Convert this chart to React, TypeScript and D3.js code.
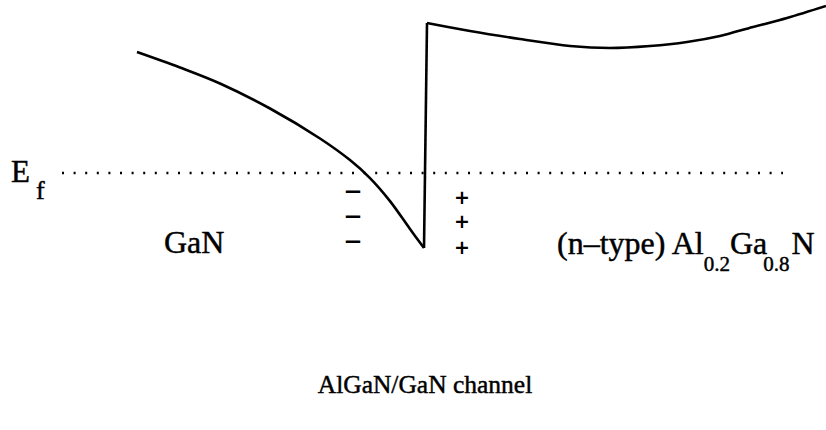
import React from "react";
import * as d3 from "d3";

const W = 826;
const H = 430;

// position (px-like units along the device) and energy (arb. units, Ef = 0)
const gaNBandX = [137, 180, 220, 270, 320, 350, 370, 390, 410, 424];
const gaNBandE = [12.1, 10.55, 8.95, 6.45, 3.45, 1.29, -0.51, -2.81, -5.6, -7.5];
const interfaceX = [424, 427];
const interfaceE = [-7.5, 15.0];
const alGaNBandX = [427, 470, 520, 570, 610, 650, 687, 720, 753, 787, 826];
const alGaNBandE = [15.0, 14.2, 13.4, 12.7, 12.5, 12.7, 13.1, 13.7, 14.6, 15.5, 16.7];
const fermiRange = [62, 783];
const fermiE = 0;
const negChargeX = 353;
const negChargeE = [-1.77, -4.27, -6.77];
const posChargeX = 462;
const posChargeE = [-2.4, -4.8, -7.4];

export default function App() {
  const x = d3.scaleLinear().domain([0, W]).range([0, W]);
  const y = d3.scaleLinear().domain([0, 10]).range([173, 73]);

  const smooth = d3
    .line<[number, number]>()
    .x((d) => x(d[0]))
    .y((d) => y(d[1]))
    .curve(d3.curveCatmullRom.alpha(0.5));
  const straight = d3
    .line<[number, number]>()
    .x((d) => x(d[0]))
    .y((d) => y(d[1]));

  const left = gaNBandX.map((v, i) => [v, gaNBandE[i]] as [number, number]);
  const mid = interfaceX.map((v, i) => [v, interfaceE[i]] as [number, number]);
  const right = alGaNBandX.map((v, i) => [v, alGaNBandE[i]] as [number, number]);

  const serif = "'Liberation Serif', 'Times New Roman', serif";
  const heavy = { stroke: "#000", strokeWidth: 0.45 };

  return (
    <svg width={W} height={H} style={{ position: "absolute", left: 0, top: 0, background: "#fff" }}>
      <rect width={W} height={H} fill="#fff" />
      <g fill="none" stroke="#000" strokeWidth={2.6} strokeLinejoin="miter">
        <path d={smooth(left) || ""} />
        <path d={straight(mid) || ""} />
        <path d={smooth(right) || ""} />
      </g>
      <line
        x1={x(fermiRange[0])}
        x2={x(fermiRange[1])}
        y1={y(fermiE)}
        y2={y(fermiE)}
        stroke="#000"
        strokeWidth={2.6}
        strokeDasharray="2 9.6"
      />
      <text x={11} y={182} fontFamily={serif} fontSize={31} fill="#000" {...heavy}>E</text>
      <text x={36} y={199} fontFamily={serif} fontSize={26} fill="#000" {...heavy}>f</text>

      {negChargeE.map((e, i) => (
        <text
          key={"n" + i}
          x={x(negChargeX)}
          y={y(e)}
          textAnchor="middle"
          dominantBaseline="central"
          fontFamily="'DejaVu Sans', sans-serif"
          fontWeight="bold"
          fontSize={23}
          fill="#000"
        >
          −
        </text>
      ))}
      {posChargeE.map((e, i) => (
        <text
          key={"p" + i}
          x={x(posChargeX)}
          y={y(e)}
          textAnchor="middle"
          dominantBaseline="central"
          fontFamily="'DejaVu Sans', sans-serif"
          fontWeight="bold"
          fontSize={19}
          fill="#000"
        >
          +
        </text>
      ))}

      <text x={164} y={253} fontFamily={serif} fontSize={32} fill="#000" {...heavy}>GaN</text>
      <text x={557} y={254} fontFamily={serif} fontSize={32} fill="#000" {...heavy}>
        (n–type) Al
        <tspan fontSize={21} dy={17}>0.2</tspan>
        <tspan fontSize={32} dy={-17}>Ga</tspan>
        <tspan fontSize={21} dy={17} dx={-4}>0.8</tspan>
        <tspan fontSize={32} dy={-17} dx={2}>N</tspan>
      </text>

      <text x={425} y={393} textAnchor="middle" fontFamily={serif} fontSize={25.5} fill="#000" {...heavy}>
        AlGaN/GaN channel
      </text>
    </svg>
  );
}
